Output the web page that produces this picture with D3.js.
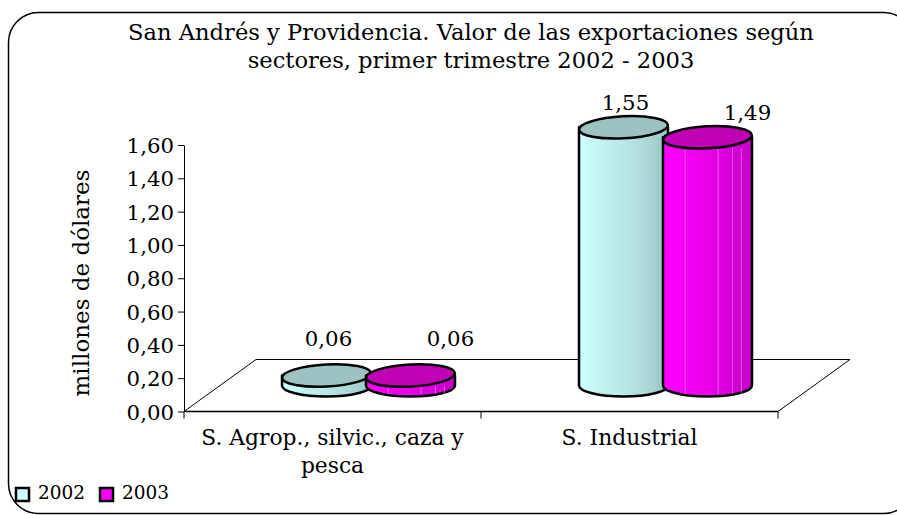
<!DOCTYPE html>
<html><head><meta charset="utf-8">
<script src="https://cdn.jsdelivr.net/npm/d3@7"></script>
<style>
body{margin:0;background:#fff;}
svg{display:block;}
text{font-family:"DejaVu Serif",serif;fill:#000;}
</style></head>
<body>
<svg id="chart" width="897" height="515"></svg>
<script>
const titleLines = ["San Andrés y Providencia. Valor de las exportaciones según","sectores, primer trimestre 2002 - 2003"];
const categories = ["S. Agrop., silvic., caza y\npesca","S. Industrial"];
const seriesNames = ["2002","2003"];
const values2002 = [0.06, 1.55];
const values2003 = [0.06, 1.49];
const valueLabels2002 = ["0,06","1,55"];
const valueLabels2003 = ["0,06","1,49"];
const yTicks = [0,0.2,0.4,0.6,0.8,1.0,1.2,1.4,1.6];
const yTickLabels = ["0,00","0,20","0,40","0,60","0,80","1,00","1,20","1,40","1,60"];
const yTitle = "millones de dólares";

const svg = d3.select("#chart");

// frame
svg.append("rect").attr("x",8.5).attr("y",12.5).attr("width",905).attr("height",501)
  .attr("rx",30).attr("ry",30).attr("fill","#fff").attr("stroke","#000").attr("stroke-width",1.5);

// defs gradients
const defs = svg.append("defs");
const grads = [
  {id:"g2002", stops:[["0%","#ccffff"],["35%","#c0eeee"],["70%","#b0dcdc"],["100%","#99c4c4"]]},
  {id:"g2003", stops:[["0%","#ff00ff"],["40%","#ee00ee"],["75%","#d800d8"],["100%","#c400c4"]]}
];
grads.forEach(g=>{
  const lg = defs.append("linearGradient").attr("id",g.id).attr("x1","0").attr("x2","1").attr("y1","0").attr("y2","0");
  g.stops.forEach(s=>lg.append("stop").attr("offset",s[0]).attr("stop-color",s[1]));
});
const topColors = ["#9cc2c2","#c000b4"];

// scales
const x0 = d3.scaleBand().domain(categories).range([184,778]).padding(0);
const y = d3.scaleLinear().domain([0,1.6]).range([411.5,145]);
const depthX = 72, depthY = -52;
const midX = depthX/2, midY = depthY/2;

// title
svg.append("text").attr("x",471).attr("y",40).attr("text-anchor","middle").attr("font-size",22.6).text(titleLines[0]);
svg.append("text").attr("x",471).attr("y",68).attr("text-anchor","middle").attr("font-size",22.6).text(titleLines[1]);

// floor
const fx0 = x0.range()[0], fx1 = x0.range()[1], fy = y(0);
svg.append("path")
  .attr("d",`M${fx0},${fy}L${fx0+depthX},${fy+depthY}L${fx1+depthX},${fy+depthY}L${fx1},${fy}Z`)
  .attr("fill","#fff").attr("stroke","#000").attr("stroke-width",1);

// y axis
const yAxis = d3.axisLeft(y).tickValues(yTicks).tickSize(6).tickSizeOuter(0)
  .tickFormat((d,i)=>yTickLabels[i]);
const gy = svg.append("g").attr("transform",`translate(${fx0},0)`).call(yAxis);
gy.select(".domain").attr("stroke","#000").attr("stroke-width",1);
gy.selectAll(".tick line").attr("stroke","#000");
gy.selectAll(".tick text").attr("font-family","DejaVu Serif").attr("font-size",21.3).attr("x",-10).attr("dy","0.36em");

// x axis baseline and ticks
svg.append("line").attr("x1",fx0).attr("x2",fx1).attr("y1",fy).attr("y2",fy).attr("stroke","#000").attr("stroke-width",1.5);
[fx0, fx0+x0.bandwidth(), fx1].forEach(v=>{
  svg.append("line").attr("x1",v).attr("x2",v).attr("y1",fy).attr("y2",fy+7).attr("stroke","#000").attr("stroke-width",1);
});

// category labels
categories.forEach(c=>{
  const cx = x0(c)+x0.bandwidth()/2;
  const t = svg.append("text").attr("x",cx).attr("y",445).attr("text-anchor","middle").attr("font-size",21.8);
  c.split("\n").forEach((ln,i)=>t.append("tspan").attr("x",cx).attr("dy",i?28:0).text(ln));
});

// y title
svg.append("text").attr("transform","translate(89,283) rotate(-90)").attr("text-anchor","middle")
  .attr("font-size",23).text(yTitle);

// cylinders
const rx = 44.5, ry = 11;
const series = [values2002, values2003];
const seriesLabels = [valueLabels2002, valueLabels2003];
const offs = [-42, 42];
const labelDx = [2, 40];
categories.forEach((c,ci)=>{
  series.forEach((vals,si)=>{
    const cx = x0(c) + x0.bandwidth()/2 + midX + offs[si];
    const yb = y(0) + midY;
    const yt = y(vals[ci]) + midY;
    const g = svg.append("g");
    g.append("path")
      .attr("d",`M${cx-rx},${yt}L${cx-rx},${yb}A${rx},${ry} 0 0 0 ${cx+rx},${yb}L${cx+rx},${yt}Z`)
      .attr("fill",`url(#g${seriesNames[si]})`).attr("stroke","#000").attr("stroke-width",2.5).attr("stroke-linejoin","round");
    if(si===1){
      [0.25,0.62,0.78,0.88].forEach(f=>{
        g.append("line").attr("x1",cx-rx+f*2*rx).attr("x2",cx-rx+f*2*rx).attr("y1",yt+ry).attr("y2",yb+ry*0.8)
          .attr("stroke","#ff99ff").attr("stroke-width",0.8).attr("opacity",0.7);
      });
    }
    g.append("ellipse").attr("cx",cx).attr("cy",yt).attr("rx",rx).attr("ry",ry)
      .attr("transform",`rotate(-3,${cx},${yt})`)
      .attr("fill",topColors[si]).attr("stroke","#000").attr("stroke-width",2.5);
    const ly = Math.min(yt-17, fy+depthY-14);
    svg.append("text").attr("x",cx+labelDx[si]).attr("y",ly).attr("text-anchor","middle").attr("font-size",21.3)
      .text(seriesLabels[si][ci]);
  });
});

// legend
const legColors = ["#ccffff","#ff00ff"];
const legX = [16, 100];
seriesNames.forEach((s,i)=>{
  svg.append("rect").attr("x",legX[i]).attr("y",488).attr("width",13).attr("height",13)
    .attr("fill",legColors[i]).attr("stroke","#000").attr("stroke-width",2.5);
  svg.append("text").attr("x",legX[i]+22).attr("y",499).attr("font-size",18.5).text(s);
});
</script>
</body></html>
